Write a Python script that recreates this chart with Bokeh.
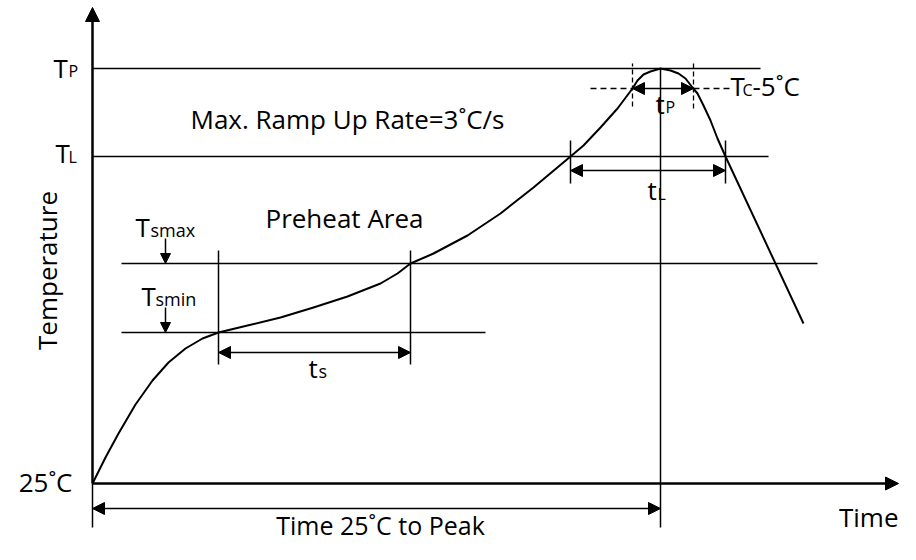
import math
from bokeh.plotting import figure
from bokeh.models import Range1d, Arrow, NormalHead
from bokeh.core.properties import value
from bokeh.embed import file_html
from bokeh.resources import INLINE

# ---- data (time units / temperature units of the sketch) ----
profile_time = [0, 13, 26, 43, 60, 76, 93, 110, 126, 155, 188, 221, 255, 288, 305, 318,
                341, 375, 408, 441, 478, 491, 508, 525, 540, 545, 551, 558, 568, 578,
                586, 593, 600, 605, 611, 618, 625, 633, 711]
profile_temp = [0, 26, 50, 79, 103, 121, 135, 145, 151, 158, 166, 176, 187, 200, 210, 220,
                230, 248, 270, 296, 327, 338, 356, 375, 395, 403, 409, 412, 415, 413,
                410, 405, 396, 390, 378, 363, 345, 327, 160]

t_smin, t_smax = 126, 318          # preheat start / end
t_L1, t_L2 = 478, 633              # above liquidus
t_p1, t_p2 = 540, 601              # within Tc-5
t_peak = 568
T_smin, T_smax, T_L, T_C5, T_P = 151, 220, 327, 395, 415

FONT = value("Open Sans")
BIG, SMALL, SUB = 26, 16, 18

p = figure(width=900, height=544, x_range=Range1d(-92, 808), y_range=Range1d(-61, 483),
           output_backend="svg", toolbar_location=None, x_axis_type=None, y_axis_type=None,
           min_border=0, outline_line_color=None, background_fill_color="white")
p.grid.visible = False


def label(x, y, s, size=BIG, align="left", baseline="alphabetic", angle=0.0):
    # compensate the renderer's baseline offset so that y is the visible baseline
    yy = y + 0.42 * size if baseline == "alphabetic" else y
    p.text(x=[x], y=[yy], text=[s], text_font=FONT, text_font_size=value(f"{size}px"),
           text_align=align, text_baseline=baseline, angle=angle, text_color="black")


def darrow(x0, y0, x1, y1, size=12, both=True, lw=1.5):
    h1 = NormalHead(size=size, fill_color="black", line_color="black", line_width=1)
    h0 = NormalHead(size=size, fill_color="black", line_color="black", line_width=1) if both else None
    p.add_layout(Arrow(start=h0, end=h1, x_start=x0, y_start=y0, x_end=x1, y_end=y1,
                       line_color="black", line_width=lw))


# axes
darrow(0, 0, 0, 476, size=14, both=False, lw=2.5)
darrow(0, 0, 806, 0, size=13, both=False, lw=2.5)

# horizontal reference lines
p.segment(x0=[0, 0, 29, 29], y0=[T_P, T_L, T_smax, T_smin],
          x1=[668, 676, 725, 393], y1=[T_P, T_L, T_smax, T_smin],
          line_color="black", line_width=1.5)

# vertical lines
p.segment(x0=[t_peak, 0], y0=[-44, -44], x1=[t_peak, 0], y1=[T_P, 0],
          line_color="black", line_width=1.5)
p.segment(x0=[t_smin, t_smax], y0=[119, 119], x1=[t_smin, t_smax], y1=[233, 233],
          line_color="black", line_width=1.5)
p.segment(x0=[t_L1, t_L2], y0=[300, 300], x1=[t_L1, t_L2], y1=[343, 343],
          line_color="black", line_width=1.5)

# dashed Tc-5 markers
p.segment(x0=[t_p1, t_p2], y0=[377, 375], x1=[t_p1, t_p2], y1=[420, 420],
          line_color="black", line_width=1.3, line_dash="5 3")
p.segment(x0=[498, t_p2], y0=[T_C5, T_C5], x1=[t_p1, 638], y1=[T_C5, T_C5],
          line_color="black", line_width=1.3, line_dash="6 4")

# profile curve
p.line(profile_time, profile_temp, line_color="black", line_width=2, line_join="round")

# dimension arrows
darrow(t_smin, 131, t_smax, 131)
darrow(t_L1, 313, t_L2, 313)
darrow(t_p1, T_C5, t_p2, T_C5, size=12)
darrow(0, -25, t_peak, -25)
darrow(73, 245, 73, T_smax, size=10, both=False)
darrow(73, 176, 73, T_smin, size=10, both=False)

# texts
label(-39, 405, "T")
label(-24, 406, "P", SMALL)
label(-37, 320, "T")
label(-24, 320, "L", SMALL)
label(-20, -9, "25˚C", align="right")
label(806, -44, "Time", align="right")
label(288, -52, "Time 25˚C to Peak", size=25, align="center")
label(-46, 213, "Temperature", align="center", baseline="middle", angle=math.pi / 2)
label(98, 354, "Max. Ramp Up Rate=3˚C/s")
label(173, 255, "Preheat Area")
label(43, 246, "T")
label(58, 246, "smax", SUB)
label(49, 177, "T")
label(63, 177, "smin", SUB)
label(216, 105, "t")
label(226, 105, "s", SUB)
label(563, 369, "t")
label(573, 370, "P", SMALL)
label(555, 283, "t")
label(565, 283, "L", SMALL)
label(638, 387, "T")
label(650, 387, "C", SMALL)
label(660, 387, "-5˚C")

open("out.html", "w").write(file_html(p, INLINE))
